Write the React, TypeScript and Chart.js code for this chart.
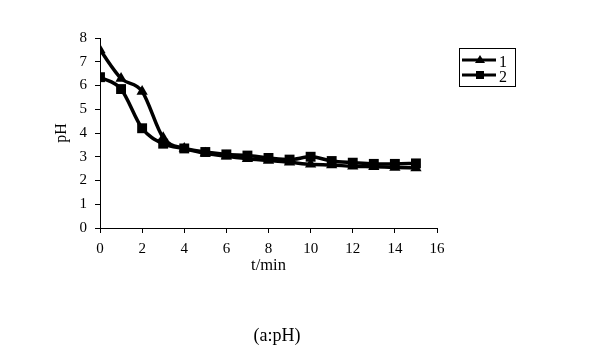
import React, { useEffect, useRef } from "react";
import { Chart, registerables } from "chart.js";

Chart.register(...registerables);

const times = [0, 1, 2, 3, 4, 5, 6, 7, 8, 9, 10, 11, 12, 13, 14, 15];
const series1 = [7.5, 6.3, 5.75, 3.8, 3.35, 3.15, 3.02, 2.92, 2.84, 2.77, 2.68, 2.65, 2.6, 2.58, 2.55, 2.53];
const series2 = [6.35, 5.85, 4.2, 3.55, 3.35, 3.2, 3.1, 3.05, 2.95, 2.88, 3.0, 2.82, 2.75, 2.7, 2.7, 2.72];
const seriesNames = ["1", "2"];
const xTitle = "t/min";
const yTitle = "pH";
const caption = "(a:pH)";

const SERIF = "'Liberation Serif', 'Times New Roman', serif";

const legendPlugin = {
  id: "boxLegend",
  afterDraw(chart: any) {
    const ctx = chart.ctx;
    ctx.save();
    const bx = 459, by = 48, bw = 56, bh = 38;
    ctx.strokeStyle = "#000";
    ctx.lineWidth = 1;
    ctx.strokeRect(bx + 0.5, by + 0.5, bw, bh);
    const rows = [
      { y: 60, style: "triangle" },
      { y: 75, style: "rect" },
    ];
    rows.forEach((r, i) => {
      ctx.strokeStyle = "#000";
      ctx.lineWidth = 3;
      ctx.beginPath();
      ctx.moveTo(462, r.y);
      ctx.lineTo(496, r.y);
      ctx.stroke();
      ctx.fillStyle = "#000";
      ctx.beginPath();
      if (r.style === "triangle") {
        ctx.moveTo(480, r.y - 5);
        ctx.lineTo(485, r.y + 3);
        ctx.lineTo(475, r.y + 3);
        ctx.closePath();
      } else {
        ctx.rect(476, r.y - 4, 8, 8);
      }
      ctx.fill();
      ctx.font = `16px ${SERIF}`;
      ctx.textBaseline = "middle";
      ctx.textAlign = "left";
      ctx.fillText(seriesNames[i], 499, r.y + 3);
    });
    ctx.restore();
  },
};

export default function App() {
  const ref = useRef<HTMLCanvasElement>(null);
  useEffect(() => {
    if (!ref.current) return;
    const chart = new Chart(ref.current, {
      type: "line",
      data: {
        datasets: [
          {
            label: seriesNames[0],
            data: times.map((t, i) => ({ x: t, y: series1[i] })),
            borderColor: "#000",
            backgroundColor: "#000",
            borderWidth: 3.5,
            pointStyle: "triangle",
            pointRadius: 6.5,
            pointBorderWidth: 0,
            cubicInterpolationMode: "monotone",
          },
          {
            label: seriesNames[1],
            data: times.map((t, i) => ({ x: t, y: series2[i] })),
            borderColor: "#000",
            backgroundColor: "#000",
            borderWidth: 3.5,
            pointStyle: "rect",
            pointRadius: 7,
            pointBorderWidth: 0,
            cubicInterpolationMode: "monotone",
          },
        ],
      },
      options: {
        responsive: false,
        animation: false,
        layout: { padding: { left: 48, top: 38, right: 163, bottom: 75 } },
        plugins: { legend: { display: false }, tooltip: { enabled: false } },
        scales: {
          x: {
            type: "linear",
            min: 0,
            max: 16,
            ticks: { stepSize: 2, color: "#000", font: { family: SERIF, size: 15 }, padding: 7 },
            grid: { display: true, drawOnChartArea: false, drawTicks: true, tickLength: 5, color: "#000" },
            border: { display: true, color: "#000", width: 1 },
            title: { display: true, text: xTitle, color: "#000", font: { family: SERIF, size: 16.5 }, padding: { top: 0, bottom: 4 } },
            afterFit: (s: any) => { s.height = 52; },
          },
          y: {
            min: 0,
            max: 8,
            ticks: { stepSize: 1, color: "#000", font: { family: SERIF, size: 15 }, padding: 8 },
            grid: { display: true, drawOnChartArea: false, drawTicks: true, tickLength: 5, color: "#000" },
            border: { display: true, color: "#000", width: 1 },
            title: { display: true, text: yTitle, color: "#000", font: { family: SERIF, size: 16 }, padding: { top: 4, bottom: 4 } },
            afterFit: (s: any) => { s.width = 52; },
          },
        },
      },
      plugins: [legendPlugin],
    });
    return () => chart.destroy();
  }, []);
  return (
    <div style={{ position: "absolute", left: 0, top: 0, width: 600, height: 355, background: "#fff" }}>
      <canvas ref={ref} width={600} height={355} style={{ position: "absolute", left: 0, top: 0 }} />
      <div
        style={{
          position: "absolute",
          left: 0,
          width: 554,
          top: 323,
          textAlign: "center",
          fontFamily: SERIF,
          fontSize: 18,
          lineHeight: "24px",
          color: "#000",
        }}
      >
        {caption}
      </div>
    </div>
  );
}
